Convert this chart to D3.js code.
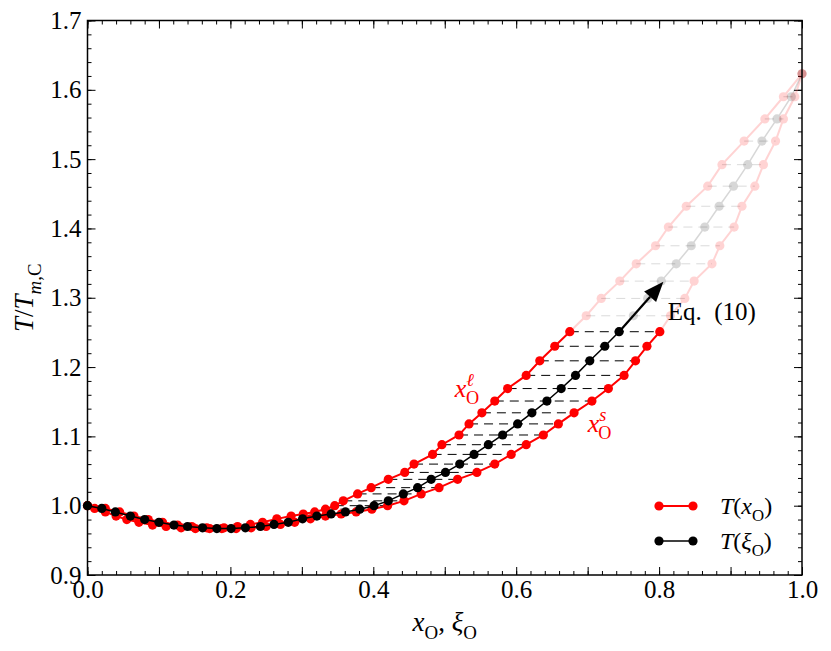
<!DOCTYPE html>
<html>
<head>
<meta charset="utf-8">
<script src="https://cdnjs.cloudflare.com/ajax/libs/d3/7.8.5/d3.min.js"></script>
<style>
body { margin: 0; background: #fff; }
text { font-family: "Liberation Serif", "DejaVu Serif", serif; }
</style>
</head>
<body>
<div id="chart"></div>
<script>
// temperature levels T/T_m,C (one per black point)
var temps = [1.000, 0.996, 0.991, 0.985, 0.980, 0.976, 0.972, 0.970, 0.968, 0.967,
             0.967, 0.968, 0.970, 0.973, 0.976, 0.981, 0.985, 0.988, 0.991, 0.995,
             1.000, 1.007, 1.017, 1.026, 1.038, 1.048, 1.060, 1.074, 1.088, 1.102,
             1.118, 1.134, 1.151, 1.169, 1.188, 1.209, 1.230, 1.251, 1.274, 1.299,
             1.324, 1.349, 1.375, 1.402, 1.432, 1.461, 1.492, 1.526, 1.558, 1.590, 1.623];

// overall composition xi_O
var xiO = [0.000, 0.020, 0.039, 0.060, 0.080, 0.100, 0.121, 0.140, 0.161, 0.181,
           0.201, 0.221, 0.242, 0.261, 0.281, 0.301, 0.321, 0.341, 0.361, 0.381,
           0.401, 0.421, 0.442, 0.462, 0.481, 0.501, 0.521, 0.541, 0.561, 0.581,
           0.602, 0.622, 0.643, 0.663, 0.683, 0.703, 0.724, 0.744, 0.764, 0.784,
           0.803, 0.824, 0.845, 0.864, 0.884, 0.904, 0.924, 0.944, 0.965, 0.985, 1.000];

// liquid composition x_O^l
var xLiq = [0.000, 0.010, 0.025, 0.040, 0.055, 0.072, 0.091, 0.110, 0.131, 0.151,
            0.171, 0.191, 0.210, 0.228, 0.245, 0.265, 0.285, 0.302, 0.318, 0.333,
            0.346, 0.358, 0.378, 0.397, 0.421, 0.444, 0.457, 0.483, 0.496, 0.520,
            0.534, 0.552, 0.570, 0.588, 0.614, 0.633, 0.654, 0.675, 0.698, 0.719,
            0.745, 0.768, 0.795, 0.813, 0.838, 0.868, 0.888, 0.919, 0.948, 0.974, 1.000];

// solid composition x_O^s
var xSol = [0.000, 0.025, 0.045, 0.065, 0.085, 0.105, 0.126, 0.146, 0.167, 0.188,
            0.208, 0.229, 0.250, 0.270, 0.290, 0.312, 0.333, 0.355, 0.376, 0.398,
            0.420, 0.443, 0.467, 0.492, 0.518, 0.545, 0.570, 0.593, 0.614, 0.638,
            0.659, 0.681, 0.706, 0.729, 0.751, 0.767, 0.783, 0.801, 0.816, 0.836,
            0.849, 0.874, 0.885, 0.905, 0.916, 0.934, 0.946, 0.963, 0.974, 0.990, 1.000];

var lastSolid = 37;   // points above this one are drawn faded
var firstTie = 19;    // tie lines drawn from this level up

var xTicks = [0.0, 0.1, 0.2, 0.3, 0.4, 0.5, 0.6, 0.7, 0.8, 0.9, 1.0];
var xTickLabels = ["0.0", "", "0.2", "", "0.4", "", "0.6", "", "0.8", "", "1.0"];
var yTicks = [0.9, 1.0, 1.1, 1.2, 1.3, 1.4, 1.5, 1.6, 1.7];
var yTickLabels = ["0.9", "1.0", "1.1", "1.2", "1.3", "1.4", "1.5", "1.6", "1.7"];

// arrow annotation "Eq. (10)"
var arrowFrom = [0.745, 1.252], arrowTo = [0.806, 1.323];

var width = 831,
    height = 651;
var margin = {top: 20.5, right: 29, bottom: 76, left: 87.5};

var svg = d3.select("#chart").append("svg")
    .attr("width", width)
    .attr("height", height);

var x = d3.scaleLinear().domain([0, 1]).range([margin.left, width - margin.right]);
var y = d3.scaleLinear().domain([0.9, 1.7]).range([height - margin.bottom, margin.top]);

// build point records
var pts = temps.map(function(t, i) {
    return {T: t, xi: xiO[i], xl: xLiq[i], xs: xSol[i], i: i};
});
var solidPts = pts.filter(function(d) { return d.i <= lastSolid; });
var fadedPts = pts.filter(function(d) { return d.i >= lastSolid; });

var fade = 0.17;

// ---- ticks on all four sides, pointing inward ----
var minorX = d3.range(0, 1.0001, 0.02), minorY = d3.range(0.9, 1.7001, 0.02);
var gAx = svg.append("g");

function styleAxis(g) {
    g.select(".domain").remove();
    g.selectAll("line").attr("stroke", "#000").attr("stroke-width", 1);
    g.selectAll("text").attr("font-size", "25px").attr("fill", "#000")
        .attr("font-family", "Liberation Serif, serif");
}

gAx.append("g").attr("transform", "translate(0," + y.range()[0] + ")")
    .call(d3.axisBottom(x).tickValues(minorX).tickSize(-4).tickFormat(""))
    .call(styleAxis);
gAx.append("g").attr("transform", "translate(0," + y.range()[0] + ")")
    .call(d3.axisBottom(x).tickValues(xTicks).tickSize(-8).tickPadding(5)
        .tickFormat(function(d, i) { return xTickLabels[i]; }))
    .call(styleAxis);
gAx.append("g").attr("transform", "translate(0," + y.range()[1] + ")")
    .call(d3.axisTop(x).tickValues(minorX).tickSize(-4).tickFormat(""))
    .call(styleAxis);
gAx.append("g").attr("transform", "translate(0," + y.range()[1] + ")")
    .call(d3.axisTop(x).tickValues(xTicks).tickSize(-8).tickFormat(""))
    .call(styleAxis);
gAx.append("g").attr("transform", "translate(" + x.range()[0] + ",0)")
    .call(d3.axisLeft(y).tickValues(minorY).tickSize(-4).tickFormat(""))
    .call(styleAxis);
gAx.append("g").attr("transform", "translate(" + x.range()[0] + ",0)")
    .call(d3.axisLeft(y).tickValues(yTicks).tickSize(-8).tickPadding(6)
        .tickFormat(function(d, i) { return yTickLabels[i]; }))
    .call(styleAxis);
gAx.append("g").attr("transform", "translate(" + x.range()[1] + ",0)")
    .call(d3.axisRight(y).tickValues(minorY).tickSize(-4).tickFormat(""))
    .call(styleAxis);
gAx.append("g").attr("transform", "translate(" + x.range()[1] + ",0)")
    .call(d3.axisRight(y).tickValues(yTicks).tickSize(-8).tickFormat(""))
    .call(styleAxis);

// ---- tie lines ----
var ties = pts.filter(function(d) { return d.i >= firstTie && d.i < pts.length - 1; });
svg.append("g").selectAll("line")
    .data(ties)
    .enter().append("line")
    .attr("x1", function(d) { return x(d.xl); })
    .attr("x2", function(d) { return x(d.xs); })
    .attr("y1", function(d) { return y(d.T); })
    .attr("y2", function(d) { return y(d.T); })
    .attr("stroke", "#000")
    .attr("stroke-width", 1)
    .attr("stroke-dasharray", "9,6")
    .attr("opacity", function(d) { return d.i > lastSolid ? fade * 0.8 : 1; });

// ---- curves ----
function lineOf(key) {
    return d3.line().x(function(d) { return x(d[key]); }).y(function(d) { return y(d.T); });
}

function drawSeries(data, key, color, lw, op) {
    var g = svg.append("g").attr("opacity", op);
    g.append("path")
        .datum(data)
        .attr("d", lineOf(key))
        .attr("fill", "none")
        .attr("stroke", color)
        .attr("stroke-width", lw);
    g.selectAll("circle")
        .data(data)
        .enter().append("circle")
        .attr("cx", function(d) { return x(d[key]); })
        .attr("cy", function(d) { return y(d.T); })
        .attr("r", 4.6)
        .attr("fill", color);
}

// faded part first, then the solid part on top
drawSeries(fadedPts, "xl", "#ff0000", 2, fade);
drawSeries(fadedPts, "xs", "#ff0000", 2, fade);
drawSeries(fadedPts, "xi", "#000000", 1.5, fade * 0.9);
drawSeries(solidPts, "xl", "#ff0000", 2, 1);
drawSeries(solidPts, "xs", "#ff0000", 2, 1);
drawSeries(solidPts, "xi", "#000000", 1.5, 1);

// ---- frame ----
svg.append("rect")
    .attr("x", x.range()[0]).attr("y", y.range()[1])
    .attr("width", x.range()[1] - x.range()[0])
    .attr("height", y.range()[0] - y.range()[1])
    .attr("fill", "none").attr("stroke", "#000").attr("stroke-width", 1.5);

// ---- math text helper ----
function mathText(g, parts, size) {
    var t = g.append("text").attr("font-size", size + "px");
    var shift = 0;
    parts.forEach(function(p) {
        var s = t.append("tspan").text(p.t);
        var target = 0;
        if (p.sub) target = size * 0.28;
        if (p.sup) target = -size * 0.42;
        if (p.sub || p.sup) s.attr("font-size", (size * 0.7) + "px");
        if (p.i) s.attr("font-style", "italic");
        if (p.dx) s.attr("dx", p.dx);
        s.attr("dy", target - shift);
        shift = target;
    });
    return t;
}

// axis labels
var xl = svg.append("g")
    .attr("transform", "translate(" + ((x.range()[0] + x.range()[1]) / 2) + "," + (height - 20) + ")");
mathText(xl, [{t: "x", i: true}, {t: "O", sub: true}, {t: ", "}, {t: "ξ", i: true}, {t: "O", sub: true}], 27)
    .attr("text-anchor", "middle");

var yl = svg.append("g")
    .attr("transform", "translate(33," + ((y.range()[0] + y.range()[1]) / 2) + ") rotate(-90)");
mathText(yl, [{t: "T", i: true}, {t: "/"}, {t: "T", i: true}, {t: "m", sub: true, i: true}, {t: ",C", sub: true}], 27)
    .attr("text-anchor", "middle");

// curve labels
var lab1 = svg.append("g").attr("transform", "translate(" + x(0.514) + "," + y(1.157) + ")").attr("fill", "#ff0000");
mathText(lab1, [{t: "x", i: true}, {t: "ℓ", sup: true, i: true}, {t: "O", sub: true, dx: -8}], 26);
var lab2 = svg.append("g").attr("transform", "translate(" + x(0.700) + "," + y(1.107) + ")").attr("fill", "#ff0000");
mathText(lab2, [{t: "x", i: true}, {t: "s", sup: true, i: true}, {t: "O", sub: true, dx: -8}], 26);

// ---- arrow ----
var p0 = [x(arrowFrom[0]), y(arrowFrom[1])], p1 = [x(arrowTo[0]), y(arrowTo[1])];
var dx = p1[0] - p0[0], dy = p1[1] - p0[1], len = Math.sqrt(dx * dx + dy * dy);
var ux = dx / len, uy = dy / len, headL = 20, headW = 8;
var bx = p1[0] - ux * headL, by = p1[1] - uy * headL;
svg.append("line")
    .attr("x1", p0[0]).attr("y1", p0[1])
    .attr("x2", bx).attr("y2", by)
    .attr("stroke", "#000").attr("stroke-width", 2.2);
svg.append("path")
    .attr("d", "M" + p1[0] + "," + p1[1] +
        "L" + (bx - uy * headW) + "," + (by + ux * headW) +
        "L" + (bx + uy * headW) + "," + (by - ux * headW) + "Z")
    .attr("fill", "#000");
svg.append("text")
    .attr("x", x(0.812)).attr("y", y(1.268))
    .attr("font-size", "25px")
    .text("Eq.\u00a0\u00a0(10)");

// ---- legend ----
var legendItems = [
    {color: "#ff0000", lw: 2, parts: [{t: "T", i: true}, {t: "("}, {t: "x", i: true}, {t: "O", sub: true}, {t: ")"}]},
    {color: "#000000", lw: 1.5, parts: [{t: "T", i: true}, {t: "("}, {t: "ξ", i: true}, {t: "O", sub: true}, {t: ")"}]}
];
var legend = svg.selectAll(".legend")
    .data(legendItems)
    .enter().append("g")
    .attr("class", "legend")
    .attr("transform", function(d, i) { return "translate(659," + (506 + i * 35) + ")"; });
legend.append("line")
    .attr("x1", 0).attr("x2", 34)
    .attr("stroke", function(d) { return d.color; })
    .attr("stroke-width", function(d) { return d.lw; });
legend.selectAll("circle")
    .data(function(d) { return [d, d]; })
    .enter().append("circle")
    .attr("cx", function(d, i) { return i * 34; })
    .attr("r", 4.6)
    .attr("fill", function(d) { return d.color; });
legend.each(function(d) {
    var g = d3.select(this).append("g").attr("transform", "translate(61,8)");
    mathText(g, d.parts, 24);
});
</script>
</body>
</html>
